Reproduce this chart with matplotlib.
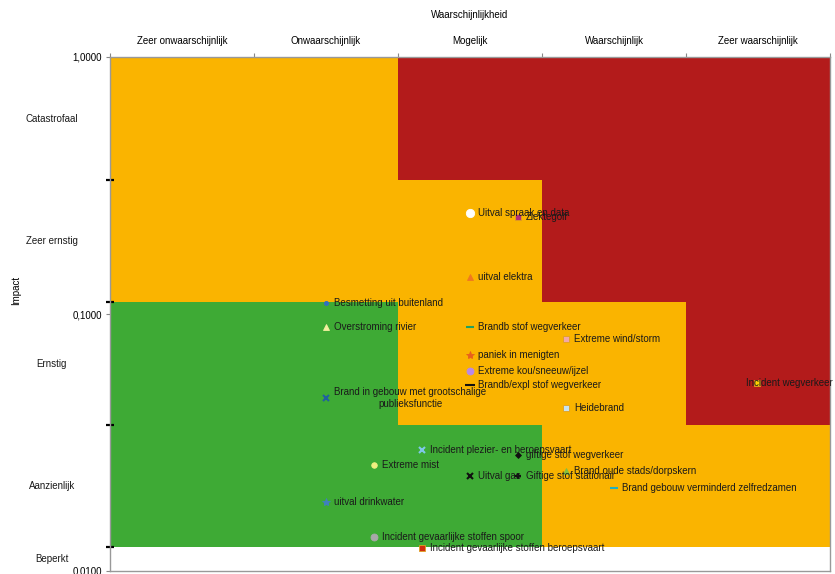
import matplotlib
matplotlib.use("Agg")
import matplotlib.pyplot as plt
from matplotlib.colors import ListedColormap
import matplotlib.transforms as mtransforms
import numpy as np

plt.rcParams['font.family'] = ['Liberation Sans', 'DejaVu Sans']

# kansklassen (x-as, boven) en impactklassen (y-as)
kans = ['Zeer onwaarschijnlijk', 'Onwaarschijnlijk', 'Mogelijk', 'Waarschijnlijk', 'Zeer waarschijnlijk']
impact = ['Catastrofaal', 'Zeer ernstig', 'Ernstig', 'Aanzienlijk', 'Beperkt']
impact_edges = [1.0, 0.332, 0.111, 0.037, 0.0124, 0.01]

# risicozones per impactklasse (boven -> onder) en kansklasse: 0 = groen, 1 = oranje, 2 = rood, 3 = wit
zones = [
    [1, 1, 2, 2, 2],
    [1, 1, 1, 2, 2],
    [0, 0, 1, 1, 2],
    [0, 0, 0, 1, 1],
    [3, 3, 3, 3, 3],
]

# scenario's: naam, kans (0-5), impact
namen = [
    'Uitval spraak en data', 'Ziektegolf', 'uitval elektra', 'Besmetting uit buitenland',
    'Overstroming rivier', 'Brandb stof wegverkeer', 'Extreme wind/storm', 'paniek in menigten',
    'Extreme kou/sneeuw/ijzel', 'Brandb/expl stof wegverkeer',
    'Brand in gebouw met grootschalige\npublieksfunctie', 'Heidebrand', 'Incident wegverkeer',
    'Incident plezier- en beroepsvaart', 'giftige stof wegverkeer', 'Extreme mist',
    'Brand oude stads/dorpskern', 'Uitval gas', 'Giftige stof stationair',
    'Brand gebouw verminderd zelfredzamen', 'uitval drinkwater',
    'Incident gevaarlijke stoffen spoor', 'Incident gevaarlijke stoffen beroepsvaart',
]
kans_x = [2.5, 2.83, 2.5, 1.5, 1.5, 2.5, 3.17, 2.5, 2.5, 2.5, 1.5, 3.17, 4.49,
          2.17, 2.83, 1.83, 3.17, 2.5, 2.83, 3.5, 1.5, 1.83, 2.17]
impact_y = [0.247, 0.238, 0.139, 0.110, 0.089, 0.089, 0.080, 0.069, 0.060, 0.053, 0.047, 0.043, 0.054,
            0.0296, 0.0283, 0.0258, 0.0245, 0.0234, 0.0234, 0.0210, 0.0185, 0.0136, 0.0123]

markers = ['o', 's', '^', 'o', '^', '_', 's', '*', 'o', '_', 'x', 's', 's',
           'x', 'D', 'o', '^', 'x', '+', '_', '*', 'o', 's']
colors = ['#ffffff', '#b0307a', '#f07820', '#3070c0', '#f4f0a0', '#20a060', '#f2a8a8', '#e8601c',
          '#b888e8', '#111111', '#2060a0', '#c8e4f0', '#ffd000', '#80c8e8', '#111111', '#f0f080',
          '#80c040', '#111111', '#111111', '#20b0c0', '#4080c0', '#a8a8a8', '#d03010']
sizes = [6, 4, 5, 3, 5, 6, 5, 6, 5, 7, 5, 5, 5, 4, 3, 4, 5, 5, 4, 6, 6, 5, 5]

fig = plt.figure(figsize=(8.35, 5.74), dpi=100)
ax = fig.add_axes([110 / 835, 3 / 574, 720 / 835, 568 / 574 - 54 / 574])

cmap = ListedColormap(['#3eaa35', '#fab400', '#b31b1b', '#ffffff'])
ax.pcolormesh(np.arange(6), impact_edges, np.array(zones), cmap=cmap, vmin=-0.5, vmax=3.5)

for i, naam in enumerate(namen):
    ax.plot(kans_x[i], impact_y[i], linestyle='none', marker=markers[i], color=colors[i],
            markersize=sizes[i], markeredgewidth=1.5 if markers[i] in ('_', 'x', '+') else 0.6,
            markeredgecolor=colors[i] if markers[i] != 's' else '#e0a020')
    dx = -11 if naam == 'Incident wegverkeer' else 8
    ax.annotate(naam, (kans_x[i], impact_y[i]), xytext=(dx, 0), textcoords='offset pixels',
                ha='left', va='center', multialignment='center', fontsize=7, color='#1a1a1a')

ax.set_yscale('log')
ax.set_ylim(0.01, 1.0)
ax.set_xlim(0, 5)

# y-as: decaden met labels, klassegrenzen als zwarte streepjes
ax.set_yticks([1.0, 0.1, 0.01])
ax.set_yticklabels(['1,0000', '0,1000', '0,0100'])
ax.set_yticks(impact_edges[:5], minor=True)
ax.yaxis.set_minor_formatter(plt.NullFormatter())
ax.tick_params(axis='y', which='major', length=3, color='#888888', labelsize=7, pad=3)
ax.tick_params(axis='y', which='minor', length=6, width=1.6, color='black', direction='inout')

# x-as bovenaan
ax.xaxis.tick_top()
ax.set_xticks(range(6))
ax.set_xticklabels([])
ax.set_xticks(np.arange(5) + 0.5, minor=True)
ax.set_xticklabels(kans, minor=True)
ax.tick_params(axis='x', which='major', length=3, color='#888888', direction='out')
ax.tick_params(axis='x', which='minor', length=0, labelsize=7, pad=8)

for s in ax.spines.values():
    s.set_color('#999999')
    s.set_linewidth(1)

trans = mtransforms.blended_transform_factory(ax.transAxes, ax.transData)
for j, naam in enumerate(impact):
    yc = np.sqrt(impact_edges[j] * impact_edges[j + 1])
    ax.text(-0.081, yc, naam, transform=trans, ha='center', va='center', fontsize=7, color='#1a1a1a')

fig.text(470 / 835, 1 - 15 / 574, 'Waarschijnlijkheid', ha='center', va='center', fontsize=7)
fig.text(16 / 835, 1 - 290 / 574, 'Impact', ha='center', va='center', rotation=90, fontsize=7)

fig.savefig('out.png', dpi=100)
